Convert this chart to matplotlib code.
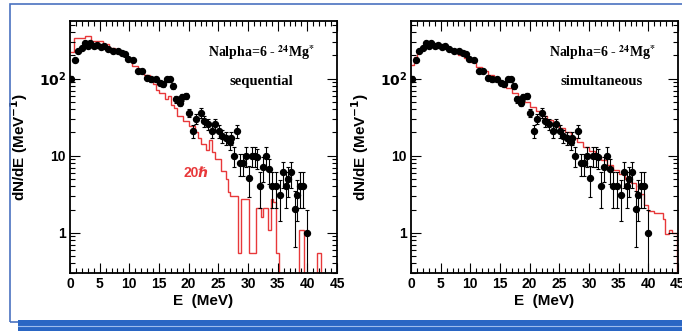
import matplotlib.pyplot as plt
from matplotlib.patches import Rectangle
from matplotlib.lines import Line2D
from matplotlib.ticker import MultipleLocator, LogLocator, FixedLocator, FixedFormatter, NullFormatter

# measured spectrum (same in both panels)
E_data = [0.2, 0.8, 1.4, 2.0, 2.5, 3.0, 3.4, 4.1, 4.6, 5.2, 5.7, 6.4, 7.3, 8.1, 8.7, 9.2, 9.8,
          10.6, 11.4, 12.1, 12.9, 13.7, 14.5, 15.1, 15.7, 16.3, 16.9, 17.3, 17.9, 18.5, 18.9,
          19.5, 20.1, 20.7, 21.3, 22.0, 22.6, 23.2, 23.9, 24.5, 25.1, 25.6, 26.3, 26.9, 27.2,
          27.6, 28.1, 28.6, 29.2, 29.6, 30.1, 30.6, 31.2, 31.6, 32.0, 32.5, 33.0, 33.5, 34.0,
          34.8, 35.4, 35.9, 36.4, 36.8, 37.3, 37.9, 38.3, 38.8, 39.3, 40.0]
dnde_data = [100, 172, 228, 251, 286, 264, 291, 264, 270, 256, 269, 244, 228, 228, 217, 206, 178,
             172, 126, 126, 103, 98, 98, 89, 85, 98, 98, 80, 54, 49, 57,
             60, 36, 21, 30, 36, 28, 26, 21, 26, 21, 18, 17, 15, 17,
             10, 21, 8.0, 8.0, 10, 5.1, 10, 10, 9.5, 4.1, 7.1, 10, 6.7, 4.1,
             4.1, 3.1, 6.1, 4.1, 5.0, 6.1, 2.05, 3.1, 4.1, 4.1, 1.0]
err_data = [7, 9, 10, 11, 12, 11, 12, 11, 11, 11, 11, 11, 10, 10, 10, 10, 9,
            9, 8, 8, 7, 7, 7, 7, 7, 7, 7, 6.5, 5.5, 5.5, 5.5,
            6, 4.5, 3.8, 4.5, 5, 4.5, 4.2, 3.8, 4.2, 3.8, 3.5, 3.4, 3.2, 3.4,
            2.8, 4, 2.6, 2.6, 2.8, 2.2, 2.8, 2.8, 2.8, 2.0, 2.6, 2.9, 2.4, 2.0,
            2.0, 1.7, 2.3, 2.0, 2.1, 2.3, 1.4, 1.7, 2.0, 2.0, 1.0]

# sequential simulation (left)
seq_edges = [0, 0.7, 2.5, 3.6, 5.6, 6.5, 7.5, 8.5, 9.5, 10.5, 11.5, 12.5, 13.5, 14.0, 14.5,
             15.0, 16.0, 16.5, 17.0, 17.5, 18.0, 19.0, 20.0, 21.0, 21.5, 22.0, 23.0, 23.5, 24.0,
             24.5, 25.5, 26.3, 26.6, 26.9, 28.3, 28.8, 30.2, 31.3, 32.2, 32.5, 33.3, 33.9, 34.2,
             34.7, 35.3, 38.6, 39.5, 41.7, 42.3, 45]
seq_vals = [225, 335, 360, 312, 280, 250, 225, 200, 172, 148, 128, 112, 100, 85,
            72, 65, 55, 60, 46, 42, 33, 28, 24, 20, 17, 14, 12, 16,
            11, 9, 6.3, 5.0, 3.4, 3.0, 0.55, 2.7, 0.55, 2.1, 1.6, 2.1, 1.1, 2.7,
            2.5, 0.55, 0, 1.1, 0, 0.55, 0]

# simultaneous simulation (right)
sim_edges = [0, 0.5, 1, 1.5, 2, 2.5, 3, 4, 5, 6, 7, 8, 9, 10, 11, 12, 13, 14, 15, 16, 17, 18,
             19, 20, 21, 22, 23, 24, 25, 26, 27, 28, 29, 30, 31, 32, 33, 34, 35, 36, 37, 38,
             39.2, 40, 41, 42.5, 42.8, 43.4, 44, 44.8, 45]
sim_vals = [150, 190, 215, 235, 255, 268, 272, 262, 250, 235, 218, 200, 183, 163, 143, 125,
            110, 97, 86, 76, 66, 57, 50, 43, 38, 33, 29, 26, 23, 20, 17, 15, 13, 11.5,
            10, 8.7, 7.5, 6.5, 5.7, 5.0, 4.4, 3.2, 2.3, 1.9, 1.8, 1.5, 0.97, 1.1, 1.0, 0]

titles = ['sequential', 'simultaneous']
red = '#e8383a'

fig = plt.figure(figsize=(6.82, 3.32), dpi=100)

# slide decoration
fig.add_artist(Rectangle((10 / 682, 1 - 322 / 332), 690 / 682, 318 / 332, transform=fig.transFigure,
                         fill=False, edgecolor='#4a72c0', lw=1.2))
fig.add_artist(Rectangle((18 / 682, 1 - 331 / 332), 1, 11 / 332, transform=fig.transFigure,
                         facecolor='#2a66c4', edgecolor='none', zorder=5))
fig.add_artist(Line2D([18 / 682, 1], [1 - 326 / 332] * 2, transform=fig.transFigure,
                      color='#9dbcec', lw=0.8, zorder=6))

lefts = [70 / 682, 411 / 682]
for i, (edges, vals) in enumerate([(seq_edges, seq_vals), (sim_edges, sim_vals)]):
    ax = fig.add_axes([lefts[i], 1 - 273 / 332, 267 / 682, 252 / 332])
    ax.set_yscale('log')
    ax.stairs(vals, edges, color=red, lw=1.0, baseline=None)
    ax.errorbar(E_data, dnde_data, yerr=err_data, fmt='o', color='black', ms=4.3,
                elinewidth=0.8, capsize=1.2, capthick=0.8)
    ax.set_xlim(0, 45)
    ax.set_ylim(0.3, 560)

    ax.xaxis.set_major_locator(MultipleLocator(5))
    ax.xaxis.set_minor_locator(MultipleLocator(1))
    ax.yaxis.set_major_locator(FixedLocator([1, 10, 100]))
    ax.yaxis.set_major_formatter(FixedFormatter(['1', '10', r'$\mathbf{10^{2}}$']))
    ax.yaxis.set_minor_locator(LogLocator(subs=range(2, 10)))
    ax.yaxis.set_minor_formatter(NullFormatter())
    ax.tick_params(which='both', direction='in', top=True, right=True, width=0.8)
    ax.tick_params(which='major', length=7, pad=3)
    ax.tick_params(which='minor', length=3.5)
    for lab in ax.get_xticklabels() + ax.get_yticklabels():
        lab.set_fontfamily('Liberation Sans')
        lab.set_fontweight('bold')
        lab.set_fontsize(10)
    for sp in ax.spines.values():
        sp.set_linewidth(1.3)

    ax.set_xlabel('E  (MeV)', fontfamily='Liberation Sans', fontweight='bold', fontsize=11, labelpad=2)
    ax.set_ylabel(r'dN/dE (MeV$^{\mathbf{-1}}$)', fontfamily='Liberation Sans', fontweight='bold',
                  fontsize=11, labelpad=6)

    ax.text(0.715, 0.873, r'Nalpha=6 - $^{\mathbf{24}}$Mg$^{\mathbf{*}}$', transform=ax.transAxes,
            ha='center', va='center', fontfamily='Liberation Serif', fontweight='bold',
            fontsize=10, math_fontfamily='stix')
    ax.text(0.715, 0.758, titles[i], transform=ax.transAxes, ha='center', va='center',
            fontfamily='Liberation Serif', fontweight='bold', fontsize=10.5)

    if i == 0:
        ax.text(0.474, 0.397, '20ℏ', transform=ax.transAxes, ha='center', va='center',
                color=red, fontweight='bold', fontsize=10,
                family=['Liberation Sans', 'DejaVu Sans'])

fig.savefig('out.png', dpi=100)
